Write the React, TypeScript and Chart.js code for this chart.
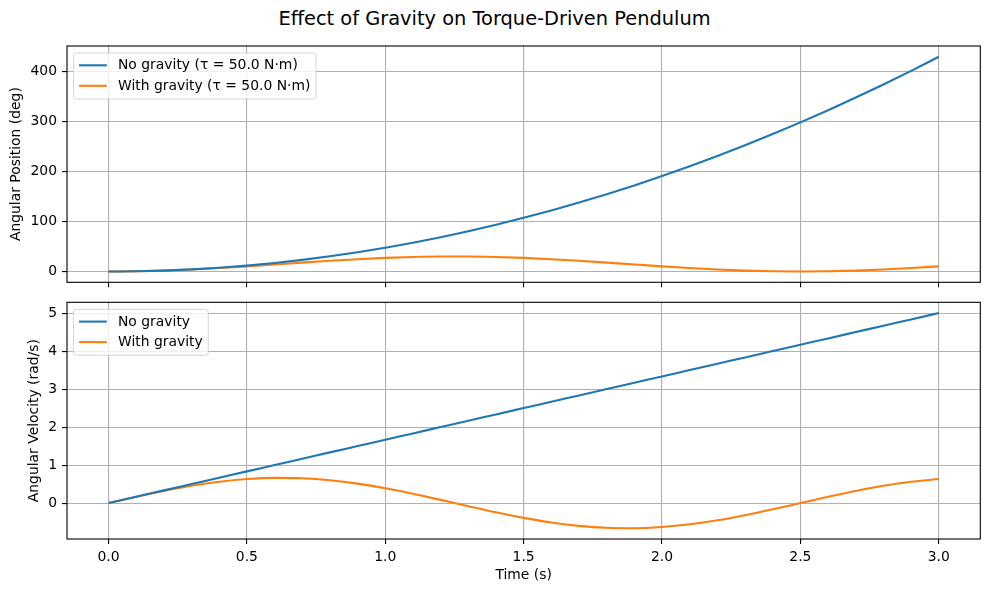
import React, { useEffect, useRef } from "react";
import { Chart, registerables } from "chart.js";
Chart.register(...registerables);

// ---------- data ----------
const timeS = [0, 0.1, 0.2, 0.3, 0.4, 0.5, 0.6, 0.7, 0.8, 0.9, 1.0, 1.1, 1.2, 1.3, 1.4, 1.5, 1.6, 1.7, 1.8, 1.9, 2.0, 2.1, 2.2, 2.3, 2.4, 2.5, 2.6, 2.7, 2.8, 2.9, 3.0];
const posNoGravityDeg = [0, 0.48, 1.91, 4.3, 7.64, 11.94, 17.19, 23.4, 30.56, 38.67, 47.75, 57.77, 68.75, 80.69, 93.58, 107.43, 122.23, 137.99, 154.7, 172.36, 190.98, 210.56, 231.09, 252.58, 275.02, 298.41, 322.76, 348.07, 374.33, 401.54, 429.71];
const posWithGravityDeg = [0, 0.47, 1.87, 4.1, 7.02, 10.45, 14.17, 17.95, 21.56, 24.76, 27.35, 29.18, 30.12, 30.12, 29.18, 27.35, 24.76, 21.56, 17.95, 14.17, 10.45, 7.02, 4.1, 1.87, 0.47, 0, 0.47, 1.87, 4.1, 7.02, 10.45];
const velNoGravity = [0, 0.167, 0.333, 0.5, 0.667, 0.833, 1.0, 1.167, 1.333, 1.5, 1.667, 1.833, 2.0, 2.167, 2.333, 2.5, 2.667, 2.833, 3.0, 3.167, 3.333, 3.5, 3.667, 3.833, 4.0, 4.167, 4.333, 4.5, 4.667, 4.833, 5.0];
const velWithGravity = [0, 0.165, 0.319, 0.454, 0.56, 0.631, 0.662, 0.651, 0.6, 0.511, 0.39, 0.244, 0.083, -0.083, -0.244, -0.39, -0.511, -0.6, -0.651, -0.662, -0.631, -0.56, -0.454, -0.319, -0.165, 0, 0.165, 0.319, 0.454, 0.56, 0.631];

const xTicks = [0, 0.5, 1.0, 1.5, 2.0, 2.5, 3.0];
const posTicks = [0, 100, 200, 300, 400];
const velTicks = [0, 1, 2, 3, 4, 5];

const posLabels = ["No gravity (τ = 50.0 N·m)", "With gravity (τ = 50.0 N·m)"];
const velLabels = ["No gravity", "With gravity"];
const figTitle = "Effect of Gravity on Torque-Driven Pendulum";
const posAxisTitle = "Angular Position (deg)";
const velAxisTitle = "Angular Velocity (rad/s)";
const timeAxisTitle = "Time (s)";

// ---------- style ----------
const BLUE = "#1f77b4";
const ORANGE = "#ff7f0e";
const FONT = "DejaVu Sans";
const FS = 13.9;

Chart.defaults.font.family = FONT;
Chart.defaults.font.size = FS;
Chart.defaults.color = "#000";

function pts(xs: number[], ys: number[]) {
  return xs.map((x, i) => ({ x, y: ys[i] }));
}

function overlayPlugin(labels: string[]) {
  return {
    id: "overlay",
    afterDraw(chart: any) {
      const { ctx, chartArea: a } = chart;
      ctx.save();
      // frame
      ctx.strokeStyle = "#000";
      ctx.lineWidth = 1.1;
      ctx.strokeRect(a.left, a.top, a.right - a.left, a.bottom - a.top);
      // legend
      ctx.font = `${FS}px "${FONT}"`;
      const pad = 5.56, handle = 27.8, gap = 11.1;
      const textW = Math.max(...labels.map((l) => ctx.measureText(l).width));
      const bx = a.left + 6.5, by = a.top + 7;
      const bw = pad + handle + gap + textW + pad;
      const bh = 46;
      const r = 2.8;
      ctx.beginPath();
      ctx.moveTo(bx + r, by);
      ctx.lineTo(bx + bw - r, by);
      ctx.quadraticCurveTo(bx + bw, by, bx + bw, by + r);
      ctx.lineTo(bx + bw, by + bh - r);
      ctx.quadraticCurveTo(bx + bw, by + bh, bx + bw - r, by + bh);
      ctx.lineTo(bx + r, by + bh);
      ctx.quadraticCurveTo(bx, by + bh, bx, by + bh - r);
      ctx.lineTo(bx, by + r);
      ctx.quadraticCurveTo(bx, by, bx + r, by);
      ctx.closePath();
      ctx.fillStyle = "rgba(255,255,255,0.8)";
      ctx.fill();
      ctx.strokeStyle = "rgba(204,204,204,0.8)";
      ctx.lineWidth = 1;
      ctx.stroke();
      labels.forEach((l, i) => {
        const y = by + 12.3 + i * 20.5;
        const ds = chart.data.datasets[i];
        ctx.strokeStyle = ds.borderColor;
        ctx.lineWidth = 2.1;
        ctx.beginPath();
        ctx.moveTo(bx + pad, y);
        ctx.lineTo(bx + pad + handle, y);
        ctx.stroke();
        ctx.fillStyle = "#000";
        ctx.textBaseline = "middle";
        ctx.textAlign = "left";
        ctx.fillText(l, bx + pad + handle + gap, y + 0.5);
      });
      ctx.restore();
    },
  };
}

const gridOpts = { color: "#b0b0b0", lineWidth: 1.1, tickColor: "#000", tickLength: 5, tickWidth: 1.1 };

function makeConfig(kind: "pos" | "vel"): any {
  const isPos = kind === "pos";
  const labels = isPos ? posLabels : velLabels;
  const yA = isPos ? posNoGravityDeg : velNoGravity;
  const yB = isPos ? posWithGravityDeg : velWithGravity;
  const yTicks = isPos ? posTicks : velTicks;
  return {
    type: "line",
    data: {
      datasets: [
        { label: labels[0], data: pts(timeS, yA), borderColor: BLUE, borderWidth: 2.1, pointRadius: 0, cubicInterpolationMode: "monotone", fill: false },
        { label: labels[1], data: pts(timeS, yB), borderColor: ORANGE, borderWidth: 2.1, pointRadius: 0, cubicInterpolationMode: "monotone", fill: false },
      ],
    },
    options: {
      animation: false,
      responsive: false,
      devicePixelRatio: 1,
      events: [],
      layout: {
        padding: isPos
          ? { left: 7.7, top: 46, right: 8.7, bottom: 0 }
          : { left: 26, top: 12.3, right: 8.7, bottom: 0 },
      },
      plugins: { legend: { display: false }, tooltip: { enabled: false }, title: { display: false } },
      scales: {
        x: {
          type: "linear",
          min: -0.15,
          max: 3.15,
          afterBuildTicks: (s: any) => { s.ticks = xTicks.map((v) => ({ value: v })); },
          afterFit: (s: any) => {
            s.height = isPos ? 7.7 : 53;
            s.paddingLeft = 0;
            s.paddingRight = 0;
          },
          ticks: {
            autoSkip: false,
            maxRotation: 0,
            padding: 5,
            color: "#000",
            callback: (v: number) => (isPos ? "" : v.toFixed(1)),
          },
          grid: gridOpts,
          border: { display: false },
          title: isPos
            ? { display: false }
            : { display: true, text: timeAxisTitle, color: "#000", padding: { top: 0, bottom: 8.7 }, font: { size: FS } },
        },
        y: {
          type: "linear",
          min: isPos ? -21.49 : -0.946,
          max: isPos ? 451.2 : 5.283,
          afterBuildTicks: (s: any) => { s.ticks = yTicks.map((v) => ({ value: v })); },
          afterFit: (s: any) => {
            s.width = isPos ? 59.3 : 41;
            s.paddingTop = 0;
            s.paddingBottom = 0;
          },
          ticks: { autoSkip: false, padding: 5, color: "#000", callback: (v: number) => String(v) },
          grid: gridOpts,
          border: { display: false },
          title: {
            display: true,
            text: isPos ? posAxisTitle : velAxisTitle,
            color: "#000",
            padding: { top: 0, bottom: 0 },
            font: { size: FS },
          },
        },
      },
    },
    plugins: [overlayPlugin(labels)],
  };
}

export default function App() {
  const topRef = useRef<HTMLCanvasElement | null>(null);
  const botRef = useRef<HTMLCanvasElement | null>(null);
  useEffect(() => {
    const c1 = new Chart(topRef.current as HTMLCanvasElement, makeConfig("pos"));
    const c2 = new Chart(botRef.current as HTMLCanvasElement, makeConfig("vel"));
    return () => { c1.destroy(); c2.destroy(); };
  }, []);
  return (
    <div style={{ position: "fixed", left: 0, top: 0, width: 989, height: 592, background: "#fff", overflow: "hidden" }}>
      <div
        style={{
          position: "absolute",
          left: 0,
          top: 7,
          width: 989,
          textAlign: "center",
          fontFamily: FONT,
          fontSize: 19.4,
          lineHeight: "23px",
          color: "#000",
        }}
      >
        {figTitle}
      </div>
      <canvas ref={topRef} width={989} height={290} style={{ position: "absolute", left: 0, top: 0, width: 989, height: 290 }} />
      <canvas ref={botRef} width={989} height={302} style={{ position: "absolute", left: 0, top: 290, width: 989, height: 302 }} />
    </div>
  );
}
